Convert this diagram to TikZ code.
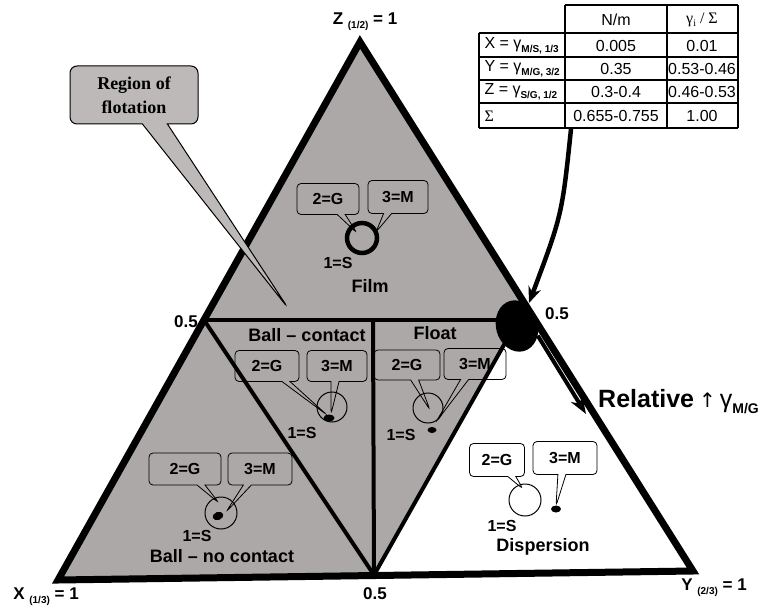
\documentclass[tikz,border=0pt]{standalone}
\usepackage{fontspec}
\setmainfont{Liberation Sans}
\newfontfamily\timesf{Liberation Serif}
\newfontfamily\dejavu{DejaVu Sans}
\usetikzlibrary{shapes.callouts,shapes.geometric,arrows.meta}
\definecolor{regiongray}{RGB}{172,168,167}
\newcommand{\fsz}[1]{\fontsize{#1}{#1}\selectfont}
\newcommand{\subsm}[1]{\raisebox{-0.45ex}{\bfseries\fsz{10}#1}}
\begin{document}
\begin{tikzpicture}[x=1pt,y=-1pt,
  outer/.style={line width=7pt, line join=miter},
  innerline/.style={line width=4pt},
  bubble/.style={rectangle callout, draw, line width=0.8pt, rounded corners=4pt,
     callout pointer width=8pt, font=\bfseries\fsz{16}, inner sep=0pt},
  reglabel/.style={font=\bfseries\fsz{18}},
  onelabel/.style={font=\bfseries\fsz{16}},
  ticklabel/.style={font=\bfseries\fsz{17}},
  tabtext/.style={font=\fsz{16}},
  tline/.style={line width=1.4pt},
  thinring/.style={circle, draw, line width=1pt, inner sep=0pt, minimum size=30pt},
  drop/.style={ellipse, fill=black, inner sep=0pt, minimum width=9pt, minimum height=6pt},
  bigarrow/.style={line width=4.5pt, -{Stealth[length=16pt,width=13pt]}},
]
\useasboundingbox (0,0) rectangle (775,609);

% key points
\coordinate (A) at (360,42);
\coordinate (L) at (58,580);
\coordinate (R) at (693,571);
\coordinate (LM) at (204,320);
\coordinate (RM) at (518,320);
\coordinate (RE) at (535,320);
\coordinate (BM) at (374,575);
\coordinate (VT) at (373,320);

% gray region
\fill[regiongray] (A) -- (L) -- (BM) -- (RM) -- (RE) -- cycle;

% inner lines
\draw[innerline] (LM) -- (RM);
\draw[innerline] (LM) -- (BM) -- (RM);
\draw[innerline] (VT) -- (BM);

% outer triangle
\draw[outer] (A) -- (L) -- (R) -- cycle;

% corner labels
\node[ticklabel] (zlab) at (365,22) {Z \subsm{(1/2)} = 1};
\node[ticklabel] (xlab) at (46,597) {X \subsm{(1/3)} = 1};
\node[ticklabel] (ylab) at (714,588) {Y \subsm{(2/3)} = 1};
\node[ticklabel] (hl) at (186,322) {0.5};
\node[ticklabel] (hr) at (557,314) {0.5};
\node[ticklabel] (hb) at (375,594) {0.5};

% Region of flotation callout
\node[rectangle callout, draw, fill=regiongray!80!white, line width=1pt, rounded corners=7pt,
  minimum width=128pt, minimum height=58pt, callout absolute pointer={(288,308)},
  callout pointer width=25pt, align=center,
  font=\bfseries\timesf\fontsize{18}{24}\selectfont] (rf) at (134,95) {Region of\\flotation};

% Film
\node[circle, draw, line width=4.5pt, inner sep=0pt, minimum size=30pt] (filmc) at (362,238) {};
\node[bubble, minimum width=62pt, minimum height=31pt, callout absolute pointer={(357,233)}] (fg) at (328,199) {2=G};
\node[bubble, minimum width=60pt, minimum height=33pt, callout absolute pointer={(376,232)}] (fm) at (398,197) {3=M};
\node[onelabel] (fs) at (338,263) {1=S};
\node[reglabel] (film) at (370,286) {Film};

% Ball - contact
\node[reglabel] (bc) at (307,335) {Ball -- contact};
\node[thinring] (bcc) at (332,407) {};
\node[drop, minimum width=11pt, minimum height=7pt] (bcd) at (329,418) {};
\node[bubble, minimum width=64pt, minimum height=31pt, callout absolute pointer={(327,415)}] (bcg) at (267,366) {2=G};
\node[bubble, minimum width=60pt, minimum height=31pt, callout absolute pointer={(331,414)}] (bcm) at (337,366) {3=M};
\node[onelabel] (bcs) at (302,433) {1=S};

% Float
\node[reglabel] (fl) at (435,333) {Float};
\node[thinring] (flc) at (428,408) {};
\node[drop] (fld) at (432,430) {};
\node[bubble, minimum width=66pt, minimum height=30pt, callout absolute pointer={(430,410)}] (flg) at (407,365) {2=G};
\node[bubble, minimum width=62pt, minimum height=31pt, callout absolute pointer={(436,422)}] (flm) at (475,364) {3=M};
\node[onelabel] (fls) at (401,435) {1=S};

% Ball - no contact
\node[thinring, minimum size=32pt] (bnc) at (221,513) {};
\node[drop, minimum width=11pt, minimum height=8pt, rotate=20] (bnd) at (218,516) {};
\node[bubble, minimum width=72pt, minimum height=32pt, callout absolute pointer={(219,503)}] (bng) at (185,469) {2=G};
\node[bubble, minimum width=64pt, minimum height=32pt, callout absolute pointer={(226,512)}] (bnm) at (260,469) {3=M};
\node[onelabel] (bns) at (197,536) {1=S};
\node[reglabel] (bn) at (222,556) {Ball -- no contact};

% Dispersion
\node[thinring, minimum size=32pt] (dpc) at (525,500) {};
\node[drop, minimum width=10pt, minimum height=7pt] (dpd) at (556,509) {};
\node[bubble, minimum width=55pt, minimum height=33pt, callout absolute pointer={(523,489)}] (dpg) at (497,460) {2=G};
\node[bubble, minimum width=64pt, minimum height=33pt, callout absolute pointer={(556,506)}] (dpm) at (565,458) {3=M};
\node[onelabel] (dps) at (502,526) {1=S};
\node[reglabel] (dp) at (543,547) {Dispersion};

% table
\draw[tline] (565,5) -- (738,5);
\draw[tline] (479,33) -- (738,33);
\draw[tline] (479,57) -- (738,57);
\draw[tline] (479,80) -- (738,80);
\draw[tline] (479,103) -- (738,103);
\draw[tline] (479,128) -- (738,128);
\draw[tline] (479,33) -- (479,128);
\draw[tline] (565,5) -- (565,128);
\draw[tline] (667,5) -- (667,128);
\draw[tline] (738,5) -- (738,128);
\node[tabtext] (h1) at (616,20) {N/m};
\node[tabtext, font=\timesf\fsz{16}] (h2) at (702,20) {γ\raisebox{-0.4ex}{\fsz{10}i} / Σ};
\node[tabtext, anchor=west] (r1) at (481,46) {X = γ\subsm{M/S, 1/3}};
\node[tabtext, anchor=west] (r2) at (481,69) {Y = γ\subsm{M/G, 3/2}};
\node[tabtext, anchor=west] (r3) at (481,92) {Z = γ\subsm{S/G, 1/2}};
\node[tabtext, anchor=west, font=\timesf\fsz{16}] (r4) at (481,116) {Σ};
\node[tabtext] (a1) at (616,46) {0.005};
\node[tabtext] (a2) at (616,69) {0.35};
\node[tabtext] (a3) at (616,92) {0.3-0.4};
\node[tabtext] (a4) at (616,116) {0.655-0.755};
\node[tabtext] (b1) at (702,46) {0.01};
\node[tabtext] (b2) at (702,69) {0.53-0.46};
\node[tabtext] (b3) at (702,92) {0.46-0.53};
\node[tabtext] (b4) at (702,116) {1.00};
\coordinate (tabfoot) at (571,129);

% blob and arrows
\node[ellipse, fill=black, inner sep=0pt, minimum width=42pt, minimum height=52pt, rotate=15] (blob) at (517,326) {};
\draw[bigarrow] (tabfoot) .. controls (562,215) .. (529,303);
\coordinate (outtip) at (586,414);
\draw[line width=4pt, -{Stealth[length=18pt,width=13pt]}] (blob.-40) -- (outtip);

\node[anchor=base west, font=\bfseries\fsz{25}, inner sep=0pt] (rel) at (598,407)
  {Relative\hspace{5pt}{\dejavu\mdseries\fsz{20}↑}\hspace{4pt}{\mdseries γ}\raisebox{-0.5ex}{\fsz{14}M/G}};
\end{tikzpicture}
\end{document}
